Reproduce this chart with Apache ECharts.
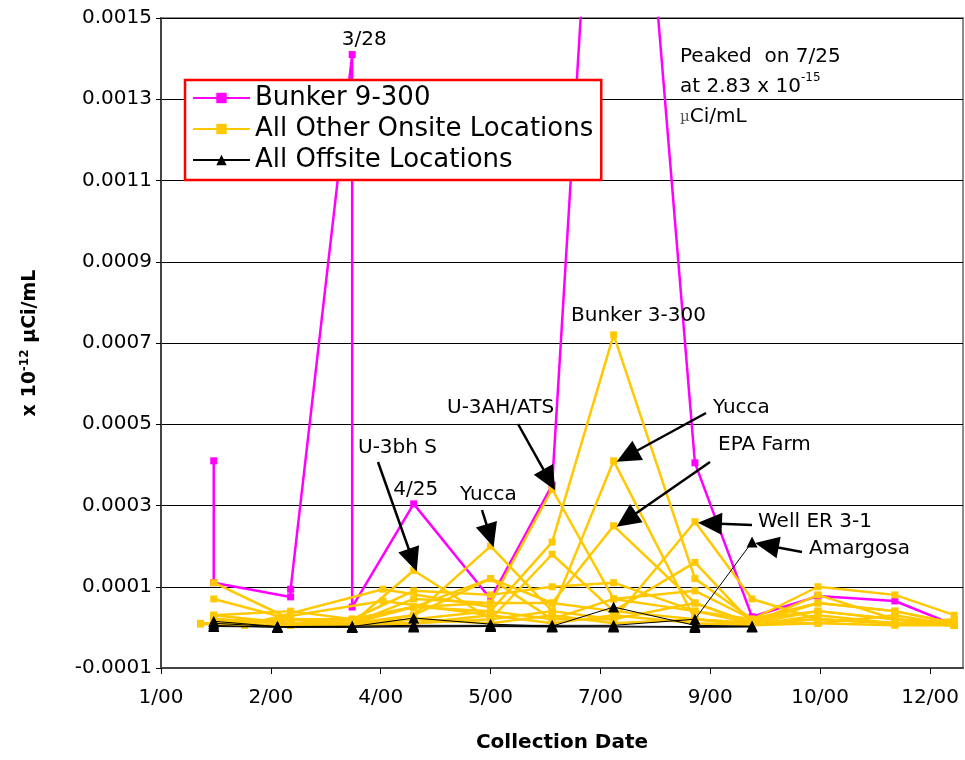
<!DOCTYPE html>
<html>
<head>
<meta charset="utf-8">
<script src="https://cdn.jsdelivr.net/npm/echarts@6/dist/echarts.min.js"></script>
<style>
html, body { margin: 0; padding: 0; background: #fff; }
#chart { width: 965px; height: 760px; }
</style>
</head>
<body>
<div id="chart"></div>
<script>
const FONT = 'DejaVu Sans, Verdana, sans-serif'

// Bunker 9-300 samples (x 10^-12 uCi/mL)
const bunker9Dates = ['2000-01-25', '2000-01-25', '2000-02-29', '2000-02-29', '2000-03-28', '2000-03-28', '2000-04-25',
  '2000-05-30', '2000-06-27', '2000-07-25', '2000-08-31', '2000-09-26', '2000-10-26', '2000-11-30', '2000-12-27']
const bunker9Values = [0.00041, 0.00011, 0.000075, 0.000094, 0.00141, 0.00005, 0.000304,
  0.00007, 0.00035, 0.00283, 0.000405, 0.000026, 0.000077, 0.000065, 0.000006]

// other onsite locations, one row per location
const onsiteDates = ['2000-01-25', '2000-02-29', '2000-03-28', '2000-04-25', '2000-05-30', '2000-06-27',
  '2000-07-25', '2000-08-31', '2000-09-26', '2000-10-26', '2000-11-30', '2000-12-27']
const bunker3 = [0.00007, 0.00002, 0.00002, 0.00005, 0.00004, 0.00021, 0.00072, 0.00012, 0.00002, 0.00006, 0.00004, 0.00001]
const yucca = [0.00003, 0.00001, 0.00001, 0.00003, 0.0002, 0.00004, 0.00041, 0.00002, 0.00001, 0.00002, 0.00001, 0.00001]
const epaFarm = [0.00002, 0.00001, 0.00001, 0.00005, 0.00006, 0.00006, 0.00025, 0.00006, 0.00001, 0.00004, 0.00002, 0.000005]
const u3ahats = [0.00011, 0.00002, 0.00001, 0.00007, 0.00006, 0.00034, 0.00007, 0.00009, 0.00002, 0.0001, 0.00008, 0.00003]
const u3bhs = [0.00001, 0.00002, 0.00001, 0.00014, 0.00002, 0.00018, 0.00004, 0.00016, 0.00001, 0.00008, 0.00002, 0.00001]
const wellEr31 = [0.000005, 0.000005, 0.000005, 0.00003, 0.00012, 0.00002, 0.00002, 0.00026, 0.00007, 0.00002, 0.00001, 0.000005]
const onsite7 = [0.00003, 0.00004, 0.00002, 0.00009, 0.00008, 0.0001, 0.00011, 0.00004, 0.00001, 0.00006, 0.00004, 0.00001]
const onsite8 = [0.00002, 0.00001, 0.00002, 0.00005, 0.00012, 0.00006, 0.00004, 0.00002, 0.00001, 0.00002, 0.00001, 0.000005]
const onsite9 = [0.000005, 0.000005, 0.000005, 0.00001, 0.00002, 0.00004, 0.00002, 0.00006, 0.00001, 0.00001, 0.000005, 0.000005]
const onsite10 = [0.00001, 0.000005, 0.000005, 0.00002, 0.00004, 0.00002, 0.00007, 0.00004, 0.00002, 0.00004, 0.00002, 0.000005]
const onsite11 = [0.00002, 0.00001, 0.000005, 0.00002, 0.00001, 0.00003, 0.00001, 0.00002, 0.000005, 0.00003, 0.00001, 0.00002]
const onsite12 = [0.00001, 0.00002, 0.00001, 0.00001, 0.00003, 0.00001, 0.00003, 0.00001, 0.000005, 0.00001, 0.00003, 0.000005]
const onsiteRows = [bunker3, yucca, epaFarm, u3ahats, u3bhs, wellEr31, onsite7, onsite8, onsite9, onsite10, onsite11, onsite12]

// a few onsite locations sampled on other dates
const extraDates = ['2000-01-19', '2000-02-08', '2000-04-11', '2000-05-30']
const extra1 = [0.000008, 0.000005, 0.000094, 0.00005]
const extra2 = [0.00001, 0.00001, 0.000065, 0.00003]

// offsite locations
const offsiteDates = ['2000-01-25', '2000-02-23', '2000-03-28', '2000-04-25', '2000-05-30', '2000-06-27',
  '2000-07-25', '2000-08-31', '2000-09-26']
const amargosa = [0.00001, 0.000002, 0.000003, 0.000005, 0.000005, 0.000005, 0.000005, 0.00002, 0.00021]
const offsite2 = [0.000015, 0.000002, 0.000002, 0.000023, 0.000008, 0.000003, 0.00005, 0.000005, 0.000003]
const offsite3 = [0.000005, 0, 0, 0.000003, 0.000003, 0.000002, 0.000003, 0.000002, 0.000002]
const offsite4 = [0.000002, 0.000001, 0.000001, 0.000001, 0.000002, 0.000001, 0.000001, 0, 0.000001]
const offsiteRows = [amargosa, offsite2, offsite3, offsite4]

const yTicks = { min: -0.0001, max: 0.0015, step: 0.0002 }

function dayOf (s) {
  const p = s.split('-').map(Number)
  return (Date.UTC(p[0], p[1] - 1, p[2]) - Date.UTC(2000, 0, 1)) / 86400000
}
function pairs (dates, values) {
  return dates.map((d, i) => [dayOf(d), values[i]]).filter(p => p[1] != null)
}

const chart = echarts.init(document.getElementById('chart'))

const series = []
series.push({
  name: 'Bunker 9-300',
  type: 'line',
  data: pairs(bunker9Dates, bunker9Values),
  symbol: 'rect',
  symbolSize: 7,
  color: '#ff00ff',
  lineStyle: { width: 2.5, color: '#ff00ff' },
  z: 2
})
const onsiteSeries = onsiteRows.map(r => pairs(onsiteDates, r)).concat([pairs(extraDates, extra1), pairs(extraDates, extra2)])
onsiteSeries.forEach(d => {
  series.push({
    name: 'All Other Onsite Locations',
    type: 'line',
    data: d,
    symbol: 'rect',
    symbolSize: 7,
    color: '#ffc800',
    lineStyle: { width: 2.5, color: '#ffc800' },
    z: 3
  })
})
offsiteRows.forEach(r => {
  series.push({
    name: 'All Offsite Locations',
    type: 'line',
    data: pairs(offsiteDates, r),
    symbol: 'triangle',
    symbolSize: 11,
    color: '#000',
    lineStyle: { width: 1, color: '#000' },
    z: 4
  })
})
series.forEach(s => {
  s.animation = false
  s.emphasis = { disabled: true }
})

const monthLabel = v => {
  const d = new Date(Date.UTC(2000, 0, 1) + v * 86400000)
  return (d.getUTCMonth() + 1) + '/' + String(d.getUTCFullYear()).slice(2)
}

const option = {
  animation: false,
  textStyle: { fontFamily: FONT },
  grid: {
    left: 161,
    right: 2,
    top: 18,
    bottom: 92,
    show: true,
    borderColor: '#8c8c8c',
    borderWidth: 2
  },
  legend: {
    left: 185,
    top: 80,
    orient: 'vertical',
    backgroundColor: '#fff',
    borderColor: '#ff0000',
    borderWidth: 2.5,
    padding: [5, 8, 7, 7],
    itemGap: 5,
    itemWidth: 57,
    itemHeight: 13,
    textStyle: { fontSize: 26, fontFamily: FONT, color: '#000' },
    data: ['Bunker 9-300', 'All Other Onsite Locations', 'All Offsite Locations']
  },
  xAxis: {
    type: 'value',
    min: 0,
    max: 365,
    interval: 50,
    name: 'Collection Date',
    nameLocation: 'middle',
    nameGap: 65,
    nameTextStyle: { fontSize: 20, fontWeight: 'bold', color: '#000', fontFamily: FONT },
    axisLine: { show: true, onZero: false, lineStyle: { color: '#444', width: 2 } },
    axisTick: { show: true, length: 6, lineStyle: { color: '#000' } },
    axisLabel: {
      fontSize: 20,
      color: '#000',
      margin: 20,
      showMaxLabel: false,
      formatter: v => (v % 50 === 0 ? monthLabel(v) : '')
    },
    splitLine: { show: false }
  },
  yAxis: {
    type: 'value',
    min: yTicks.min,
    max: yTicks.max,
    interval: yTicks.step,
    name: '{a|x 10}{s|-12}{a| µCi/mL}',
    nameLocation: 'middle',
    nameGap: 120,
    nameRotate: 90,
    nameTextStyle: {
      rich: {
        a: { fontSize: 19, fontWeight: 'bold', color: '#000', fontFamily: FONT },
        s: { fontSize: 12, fontWeight: 'bold', color: '#000', fontFamily: FONT, verticalAlign: 'top', padding: [0, 0, 10, 0] }
      }
    },
    axisLine: { show: true, lineStyle: { color: '#444', width: 2 } },
    axisTick: { show: true, length: 5, lineStyle: { color: '#000' } },
    axisLabel: {
      fontSize: 20,
      color: '#000',
      margin: 9,
      formatter: v => v.toFixed(4)
    },
    splitLine: { show: true, lineStyle: { color: '#000', width: 1 } }
  },
  series: series
}

chart.setOption(option)

// annotations: text boxes and arrows pointing at sample points
const notes = [
  { text: 'U-3bh S', x: 358, y: 450, from: [378, 462], at: ['2000-04-25', 0.00014] },
  { text: 'Yucca', x: 460, y: 497, from: [482, 510], at: ['2000-05-30', 0.0002] },
  { text: 'U-3AH/ATS', x: 447, y: 410, from: [518, 424], at: ['2000-06-27', 0.00034] },
  { text: 'Bunker 3-300', x: 571, y: 318 },
  { text: 'Yucca', x: 713, y: 410, from: [706, 413], at: ['2000-07-25', 0.00041] },
  { text: 'EPA Farm', x: 718, y: 447, from: [710, 462], at: ['2000-07-25', 0.00025] },
  { text: 'Well ER 3-1', x: 758, y: 524, from: [752, 525], at: ['2000-08-31', 0.00026] },
  { text: 'Amargosa', x: 809, y: 551, from: [802, 552], at: ['2000-09-26', 0.00021] }
]

function arrow (from, to) {
  const dx = to[0] - from[0]
  const dy = to[1] - from[1]
  const len = Math.hypot(dx, dy)
  const ux = dx / len
  const uy = dy / len
  const hl = 24
  const hw = 11
  const bx = to[0] - ux * hl
  const by = to[1] - uy * hl
  return [
    { type: 'line', shape: { x1: from[0], y1: from[1], x2: bx + ux * 2, y2: by + uy * 2 }, style: { stroke: '#000', lineWidth: 2.5 }, z: 50 },
    { type: 'polygon', shape: { points: [to, [bx - uy * hw, by + ux * hw], [bx + uy * hw, by - ux * hw]] }, style: { fill: '#000' }, z: 50 }
  ]
}

const graphics = []
notes.forEach(n => {
  graphics.push({
    type: 'text', left: n.x, top: n.y - 12, z: 50,
    style: { text: n.text, fontSize: 20, fontFamily: FONT, fill: '#000' }
  })
  if (n.from) {
    const tip = chart.convertToPixel({ gridIndex: 0 }, [dayOf(n.at[0]), n.at[1]])
    graphics.push(...arrow(n.from, [tip[0] + 3, tip[1] + 1]))
  }
})

// date labels on the Bunker 9-300 peaks
const p328 = chart.convertToPixel({ gridIndex: 0 }, [dayOf('2000-03-28'), 0.00141])
const p425 = chart.convertToPixel({ gridIndex: 0 }, [dayOf('2000-04-25'), 0.000304])
graphics.push({ type: 'text', x: p328[0] + 12, y: p328[1] - 5, z: 50, style: { text: '3/28', fontSize: 20, fontFamily: FONT, fill: '#000', align: 'center', verticalAlign: 'bottom' } })
graphics.push({ type: 'text', x: p425[0] + 2, y: p425[1] - 4, z: 50, style: { text: '4/25', fontSize: 20, fontFamily: FONT, fill: '#000', align: 'center', verticalAlign: 'bottom' } })

// note about the clipped July peak
graphics.push({
  type: 'text', left: 680, top: 47, z: 50,
  style: {
    text: '{a|Peaked  on 7/25}\n{a|at 2.83 x 10}{s|-15}\n{m|µ}{a|Ci/mL}',
    rich: {
      a: { fontSize: 20, fontFamily: FONT, fill: '#000', lineHeight: 30 },
      s: { fontSize: 12, fontFamily: FONT, fill: '#000', verticalAlign: 'top', lineHeight: 30, padding: [0, 0, 10, 0] },
      m: { fontSize: 15, fontFamily: 'DejaVu Serif, serif', fill: '#555', lineHeight: 30 }
    }
  }
})

chart.setOption({ graphic: graphics })
</script>
</body>
</html>
